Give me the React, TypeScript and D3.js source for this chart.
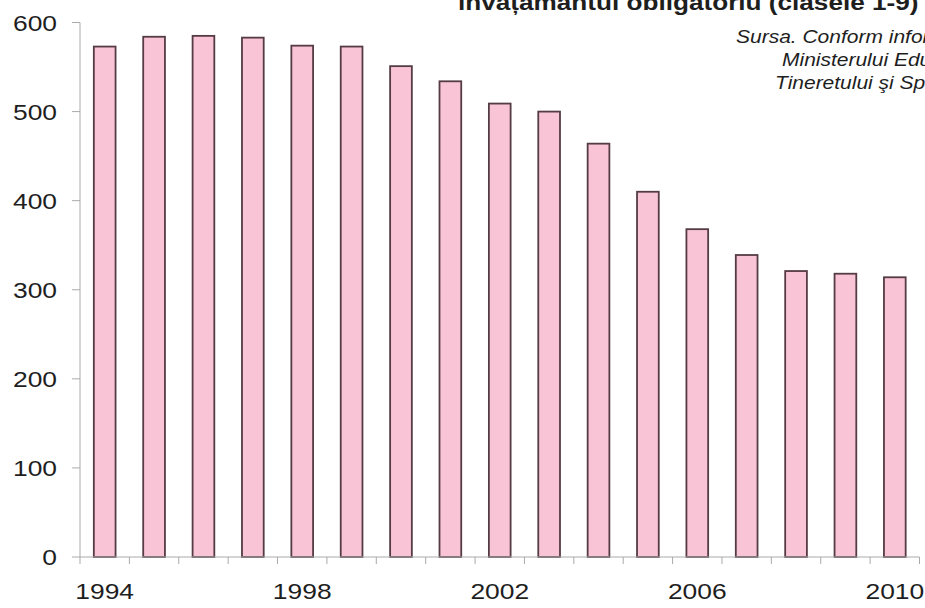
import * as d3 from "d3";
import React, { useEffect, useRef } from "react";

const years = [
  1994, 1995, 1996, 1997, 1998, 1999, 2000, 2001, 2002, 2003, 2004, 2005,
  2006, 2007, 2008, 2009, 2010,
];
const pupils = [
  573, 584, 585, 583, 574, 573, 551, 534, 509, 500, 464, 410, 368, 339, 321,
  318, 314,
];
const yTicks = [0, 100, 200, 300, 400, 500, 600];
const xLabels = [1994, 1998, 2002, 2006, 2010];

const titleText = "învățământul obligatoriu (clasele 1-9)";
const sourceLines = [
  "Sursa. Conform informaţiilor",
  "Ministerului Educaţiei,",
  "Tineretului şi Sportului",
];

const W = 925;
const H = 608;
const STRETCH = 1.2;
const font = "'Liberation Sans', Arial, sans-serif";

export default function App() {
  const ref = useRef<SVGSVGElement | null>(null);

  useEffect(() => {
    const svg = d3.select(ref.current);
    svg.selectAll("*").remove();

    const x = d3
      .scaleBand()
      .domain(years.map(String))
      .range([80, 919.5])
      .paddingInner(0.56)
      .paddingOuter(0.28);
    const y = d3.scaleLinear().domain([0, 600]).range([557, 22.5]);

    // bars
    svg
      .append("g")
      .selectAll("rect")
      .data(years)
      .join("rect")
      .attr("x", (d) => x(String(d)))
      .attr("width", x.bandwidth())
      .attr("y", (d, i) => y(pupils[i]))
      .attr("height", (d, i) => y(0) - y(pupils[i]))
      .attr("fill", "#f8c4d6")
      .attr("stroke", "#553c43")
      .attr("stroke-width", 1.8);

    // axes lines
    const axis = svg.append("g").attr("stroke", "#aaaaaa").attr("stroke-width", 1);
    axis.append("line").attr("x1", 80).attr("x2", 80).attr("y1", y(600)).attr("y2", y(0));
    axis.append("line").attr("x1", 80).attr("x2", 919.5).attr("y1", y(0)).attr("y2", y(0));
    axis
      .selectAll(".yt")
      .data(yTicks)
      .join("line")
      .attr("x1", 72)
      .attr("x2", 80)
      .attr("y1", (d) => y(d))
      .attr("y2", (d) => y(d));
    const step = x.step();
    const start = x.range()[0];
    axis
      .selectAll(".xt")
      .data(d3.range(years.length + 1))
      .join("line")
      .attr("x1", (i) => start + i * step)
      .attr("x2", (i) => start + i * step)
      .attr("y1", y(0))
      .attr("y2", y(0) + 7);

    const stretchedText = (
      g: any,
      tx: number,
      ty: number,
      text: string,
      size: number,
      anchor: string,
      weight = "normal",
      style = "normal"
    ) => {
      g.append("text")
        .attr("transform", `translate(${tx},${ty}) scale(${STRETCH},1)`)
        .attr("text-anchor", anchor)
        .attr("font-family", font)
        .attr("font-size", size)
        .attr("font-weight", weight)
        .attr("font-style", style)
        .attr("fill", "#1e1e1e")
        .text(text);
    };

    const labels = svg.append("g");
    yTicks.forEach((t) => stretchedText(labels, 57, y(t) + 8, String(t), 22, "end"));
    xLabels.forEach((yr) =>
      stretchedText(labels, x(String(yr))! + x.bandwidth() / 2, 599, String(yr), 22, "middle")
    );

    stretchedText(labels, 458, 10, titleText, 21.8, "start", "bold");
    const srcX = [736, 782, 775];
    const srcY = [43, 66, 89];
    sourceLines.forEach((line, i) =>
      stretchedText(labels, srcX[i], srcY[i], line, 17.5, "start", "normal", "italic")
    );
  }, []);

  return (
    <svg
      ref={ref}
      width={W}
      height={H}
      style={{ position: "absolute", left: 0, top: 0, background: "#fff" }}
    />
  );
}
